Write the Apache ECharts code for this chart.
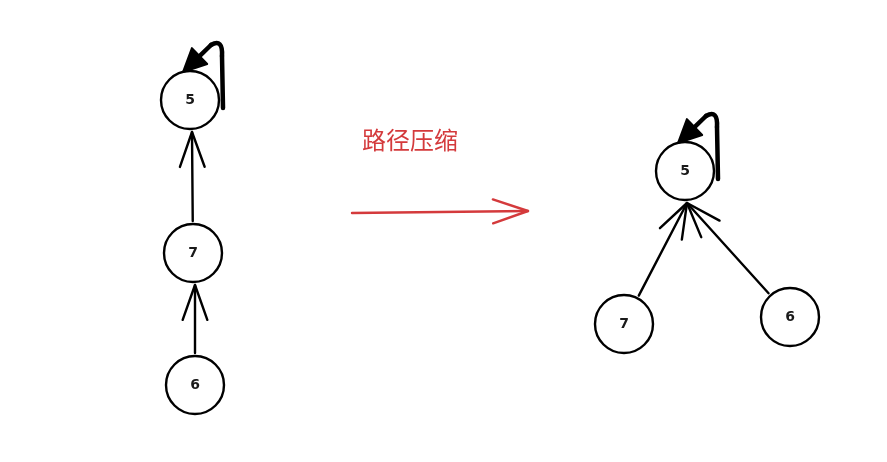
<!DOCTYPE html>
<html>
<head>
<meta charset="utf-8">
<script src="https://cdn.jsdelivr.net/npm/echarts@6/dist/echarts.min.js"></script>
<style>
  html, body { margin: 0; padding: 0; background: #fff; }
  #main { width: 887px; height: 462px; }
</style>
</head>
<body>
<div id="main"></div>
<script>
// nodes of the two trees (before / after path compression)
var nodeNames = ['5', '7', '6', '5', '7', '6'];
var nodeX = [190, 193, 195, 685, 624, 790];
var nodeY = [100, 253, 385, 171, 324, 317];
// parent links: [child, parent]
var links = [[1, 0], [2, 1], [4, 3], [5, 3]];
// roots point to themselves
var roots = [0, 3];
// the big arrow between the two pictures
var bigArrowX = [352, 528];
var bigArrowY = [213, 211];
var caption = '路径压缩';
var captionX = 410;
var captionY = 140;

var R = 29;
var red = '#d43a3c';

var myChart = echarts.init(document.getElementById('main'));

var nodeData = nodeNames.map(function (n, i) {
    return { name: n, value: [nodeX[i], nodeY[i]] };
});
var linkData = links.map(function (l) {
    return [nodeX[l[0]], nodeY[l[0]], nodeX[l[1]], nodeY[l[1]]];
});
var rootData = roots.map(function (r) {
    return [nodeX[r], nodeY[r]];
});

// open "V" arrow head at (tx,ty) coming from direction (ux,uy)
function chevron(tx, ty, ux, uy, len, ang) {
    var bx = -ux, by = -uy;
    var c = Math.cos(ang), s = Math.sin(ang);
    var w1 = [tx + len * (bx * c - by * s), ty + len * (bx * s + by * c)];
    var w2 = [tx + len * (bx * c + by * s), ty + len * (-bx * s + by * c)];
    return [w1, [tx, ty], w2];
}

function renderLink(params, api) {
    var a = api.coord([api.value(0), api.value(1)]);
    var b = api.coord([api.value(2), api.value(3)]);
    // every arrow ends just under the parent circle
    var e = [b[0] + 2, b[1] + R + 3];
    var dx = e[0] - a[0], dy = e[1] - a[1];
    var d = Math.sqrt(dx * dx + dy * dy);
    var ux = dx / d, uy = dy / d;
    var s = [a[0] + ux * (R + 3), a[1] + uy * (R + 3)];
    var st = { stroke: '#000', lineWidth: 2.4, fill: null, lineCap: 'round', lineJoin: 'round' };
    return {
        type: 'group',
        children: [
            { type: 'line', shape: { x1: s[0], y1: s[1], x2: e[0], y2: e[1] }, style: st },
            { type: 'polyline', shape: { points: chevron(e[0], e[1], ux, uy, 37, 0.34) }, style: st }
        ]
    };
}

function renderLoop(params, api) {
    var c = api.coord([api.value(0), api.value(1)]);
    var x = c[0], y = c[1];
    var tip = [x - 7, y - 28];
    var from = [x + 21, y - 55];
    var dx = tip[0] - from[0], dy = tip[1] - from[1];
    var d = Math.sqrt(dx * dx + dy * dy);
    var ux = dx / d, uy = dy / d;
    var hl = 23, hw = 11;
    var base = [tip[0] - ux * hl, tip[1] - uy * hl];
    var st = { stroke: '#000', lineWidth: 4.5, fill: null, lineCap: 'round', lineJoin: 'round' };
    return {
        type: 'group',
        children: [
            { type: 'line', shape: { x1: x + 33, y1: y + 8, x2: x + 32, y2: y - 44 }, style: st },
            { type: 'bezierCurve', shape: { x1: x + 32, y1: y - 44, cpx1: x + 33, cpy1: y - 62, x2: from[0], y2: from[1] }, style: st },
            { type: 'line', shape: { x1: from[0], y1: from[1], x2: base[0], y2: base[1] }, style: st },
            {
                type: 'polygon',
                shape: { points: [tip, [base[0] - uy * hw, base[1] + ux * hw], [base[0] + uy * hw, base[1] - ux * hw]] },
                style: { fill: '#000', stroke: '#000', lineWidth: 2, lineJoin: 'round' }
            }
        ]
    };
}

function renderBigArrow(params, api) {
    var a = api.coord([bigArrowX[0], bigArrowY[0]]);
    var b = api.coord([bigArrowX[1], bigArrowY[1]]);
    var dx = b[0] - a[0], dy = b[1] - a[1];
    var d = Math.sqrt(dx * dx + dy * dy);
    var st = { stroke: red, lineWidth: 2.4, fill: null, lineCap: 'round', lineJoin: 'round' };
    return {
        type: 'group',
        children: [
            { type: 'line', shape: { x1: a[0], y1: a[1], x2: b[0], y2: b[1] }, style: st },
            { type: 'polyline', shape: { points: chevron(b[0], b[1], dx / d, dy / d, 37, 0.33) }, style: st }
        ]
    };
}

function renderCaption(params, api) {
    var p = api.coord([captionX, captionY]);
    return {
        type: 'text',
        x: p[0], y: p[1],
        style: {
            text: caption,
            fill: red,
            font: '24px "Noto Sans CJK SC", sans-serif',
            align: 'center',
            verticalAlign: 'middle'
        }
    };
}

option = {
    animation: false,
    backgroundColor: '#fff',
    grid: { left: 0, right: 0, top: 0, bottom: 0 },
    xAxis: { type: 'value', min: 0, max: 887, show: false },
    yAxis: { type: 'value', min: 0, max: 462, inverse: true, show: false },
    series: [
        {
            type: 'custom',
            renderItem: renderLink,
            data: linkData,
            z: 1
        },
        {
            type: 'custom',
            renderItem: renderLoop,
            data: rootData,
            z: 3
        },
        {
            type: 'custom',
            renderItem: renderBigArrow,
            data: [0],
            z: 1
        },
        {
            type: 'custom',
            renderItem: renderCaption,
            data: [0],
            z: 1
        },
        {
            type: 'scatter',
            data: nodeData,
            symbol: 'circle',
            symbolSize: 58,
            itemStyle: { color: '#fff', borderColor: '#000', borderWidth: 2.4, opacity: 1 },
            label: {
                show: true,
                position: 'inside',
                formatter: '{b}',
                color: '#1a1a1a',
                fontSize: 14,
                fontWeight: 'bold',
                fontFamily: 'DejaVu Sans'
            },
            emphasis: { disabled: true },
            z: 2
        }
    ]
};

myChart.setOption(option);
</script>
</body>
</html>
